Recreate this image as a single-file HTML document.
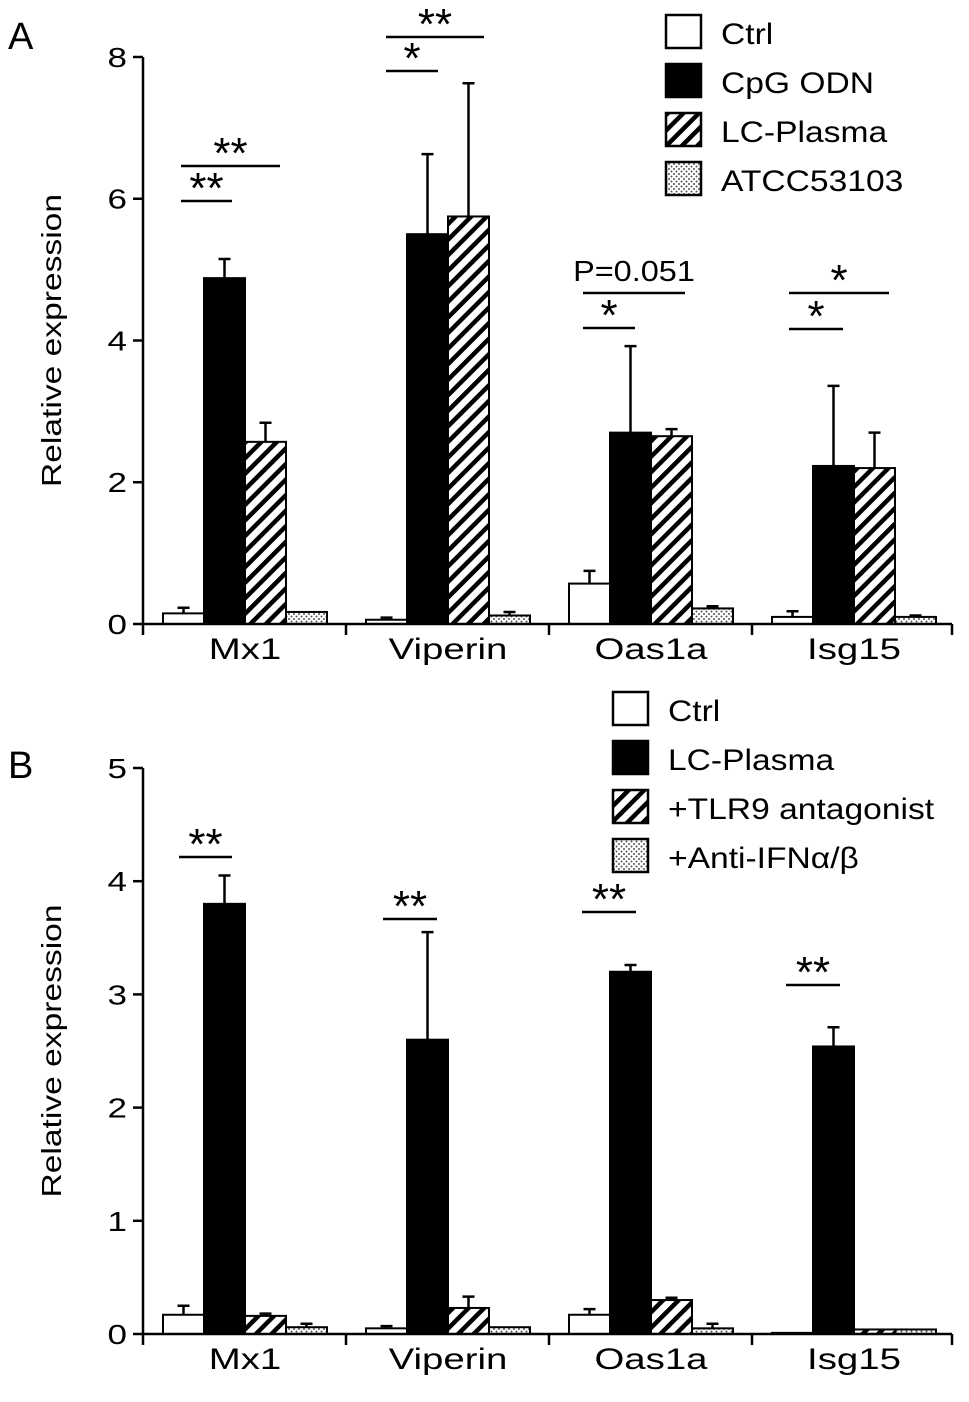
<!DOCTYPE html>
<html><head><meta charset="utf-8"><style>
html,body{margin:0;padding:0;background:#fff}
svg{display:block;font-family:"Liberation Sans",Arial,sans-serif}
</style></head><body>
<svg id="fig" width="969" height="1402" viewBox="0 0 969 1402">
<defs>
<pattern id="hatch" patternUnits="userSpaceOnUse" width="11" height="11" patternTransform="rotate(45)">
<rect width="11" height="11" fill="#fff"/><rect x="0" y="0" width="4.5" height="11" fill="#000"/>
</pattern>
<pattern id="dots" patternUnits="userSpaceOnUse" width="5" height="5">
<rect width="5" height="5" fill="#fff"/><circle cx="1.5" cy="1.5" r="1" fill="#555"/><circle cx="4" cy="4" r="1" fill="#555"/>
</pattern>
</defs>
<g id="gA"></g>
<g id="gB"></g>
</svg>
<script>
const genes = ["Mx1","Viperin","Oas1a","Isg15"];
const seriesA = ["Ctrl","CpG ODN","LC-Plasma","ATCC53103"];
const seriesB = ["Ctrl","LC-Plasma","+TLR9 antagonist","+Anti-IFNα/β"];
const aCtrl = [0.15,0.06,0.57,0.10];
const aCtrlErr = [0.08,0.03,0.18,0.08];
const aCpG = [4.88,5.50,2.70,2.23];
const aCpGErr = [0.27,1.13,1.22,1.13];
const aLC = [2.57,5.75,2.65,2.20];
const aLCErr = [0.27,1.88,0.10,0.50];
const aATCC = [0.17,0.12,0.22,0.10];
const aATCCErr = [0.0,0.05,0.03,0.02];
const bCtrl = [0.17,0.05,0.17,0.01];
const bCtrlErr = [0.08,0.02,0.05,0.0];
const bLC = [3.80,2.60,3.20,2.54];
const bLCErr = [0.25,0.95,0.06,0.17];
const bTLR = [0.16,0.23,0.30,0.04];
const bTLRErr = [0.02,0.10,0.02,0.0];
const bAnti = [0.06,0.06,0.05,0.04];
const bAntiErr = [0.03,0.0,0.04,0.0];
const ticksA = [0,2,4,6,8];
const ticksB = [0,1,2,3,4,5];

const NS="http://www.w3.org/2000/svg";
function mk(tag,attrs,parent){const e=document.createElementNS(NS,tag);for(const k in attrs)e.setAttribute(k,attrs[k]);parent.appendChild(e);return e;}
const fills=["#fff","#000","url(#hatch)","url(#dots)"];

function panel(g,cfg){
  const x0=143,gw=203,bw=41,off=20;
  const y=v=>cfg.y0-(v/cfg.max)*(cfg.y0-cfg.yTop);
  cfg.vals.forEach((arr,s)=>{
    arr.forEach((v,i)=>{
      const bx=x0+off+i*gw+s*bw;
      const r=mk('rect',{x:bx,y:y(v),width:bw,height:cfg.y0-y(v),fill:fills[s],stroke:'#000','stroke-width':2},g);
      
      
      const e=cfg.errs[s][i];
      if(e>0){
        const cx=bx+bw/2;
        const l=mk('path',{d:`M${cx},${y(v)} V${y(v+e)} M${cx-6},${y(v+e)} H${cx+6}`,stroke:'#000','stroke-width':2.5,fill:'none'},g);
        
        
      }
    });
  });
  const ax=mk('path',{d:`M${x0},${cfg.yTop} V${cfg.y0} H${x0+4*gw-3}`,stroke:'#000','stroke-width':2.5,fill:'none'},g);
  
  
  for(let i=0;i<=4;i++){const xx=Math.min(x0+i*gw,x0+4*gw-3);mk('line',{x1:xx,x2:xx,y1:cfg.y0,y2:cfg.y0+11,stroke:'#000','stroke-width':2.5},g);}
  cfg.ticks.forEach(t=>{
    mk('line',{x1:x0-10,x2:x0,y1:y(t),y2:y(t),stroke:'#000','stroke-width':2.5},g);
    const tx=mk('text',{x:127,y:y(t)+10,'text-anchor':'end','font-size':28,transform:`translate(127,0) scale(1.25,1) translate(-127,0)`},g);
    tx.textContent=t;
    
    
  });
  genes.forEach((n,i)=>{
    const cx=x0+off+i*gw+2*bw;
    const tx=mk('text',{x:cx,y:cfg.y0+35,'text-anchor':'middle','font-size':30,transform:`translate(${cx},0) scale(1.28,1) translate(${-cx},0)`},g);
    tx.textContent=n;
    
    
  });
  const yt=mk('text',{x:0,y:0,'text-anchor':'middle','font-size':28,transform:`translate(61,${(cfg.y0+cfg.yTop)/2}) rotate(-90) scale(1.2,1)`},g);
  yt.textContent='Relative expression';
  
  
  const pl=mk('text',{x:8,y:cfg.letterY,'font-size':38},g);
  pl.textContent=cfg.letter;
  
  
  cfg.series.forEach((s,k)=>{
    const ly=cfg.legY+k*cfg.legStep;
    mk('rect',{x:cfg.legX,y:ly,width:35,height:33,fill:fills[k],stroke:'#000','stroke-width':2.5},g);
    const tx0=cfg.legX+55;
    const t=mk('text',{x:tx0,y:ly+29,'font-size':30,transform:`translate(${tx0},0) scale(1.12,1) translate(${-tx0},0)`},g);
    t.textContent=s;
    
    
  });
  cfg.sig.forEach(sg=>{
    mk('line',{x1:sg[0],x2:sg[1],y1:sg[2],y2:sg[2],stroke:'#000','stroke-width':2.5},g);
    const isP=sg[3].startsWith('P');
    const cx=(sg[0]+sg[1])/2;
    const t=mk('text',{x:cx,y:sg[2]+(isP?-12:2),'text-anchor':'middle','font-size':isP?29:44,transform:isP?`translate(${cx},0) scale(1.12,1) translate(${-cx},0)`:''},g);
    t.textContent=sg[3];
    
    
  });
}
panel(document.getElementById('gA'),{y0:624,yTop:57,max:8,ticks:ticksA,
  vals:[aCtrl,aCpG,aLC,aATCC],errs:[aCtrlErr,aCpGErr,aLCErr,aATCCErr],
  series:seriesA,legX:666,legY:15,legStep:49,letter:'A',letterY:49,
  sig:[[181,232,201,'**'],[181,280,166,'**'],[386,438,71,'*'],[386,484,37,'**'],[583,635,328,'*'],[583,685,293,'P=0.051'],[789,843,329,'*'],[789,889,293,'*']]});
panel(document.getElementById('gB'),{y0:1334,yTop:768,max:5,ticks:ticksB,
  vals:[bCtrl,bLC,bTLR,bAnti],errs:[bCtrlErr,bLCErr,bTLRErr,bAntiErr],
  series:seriesB,legX:613,legY:692,legStep:49,letter:'B',letterY:778,
  sig:[[179,232,857,'**'],[383,437,919,'**'],[582,636,912,'**'],[786,840,985,'**']]});
</script>
</body></html>
